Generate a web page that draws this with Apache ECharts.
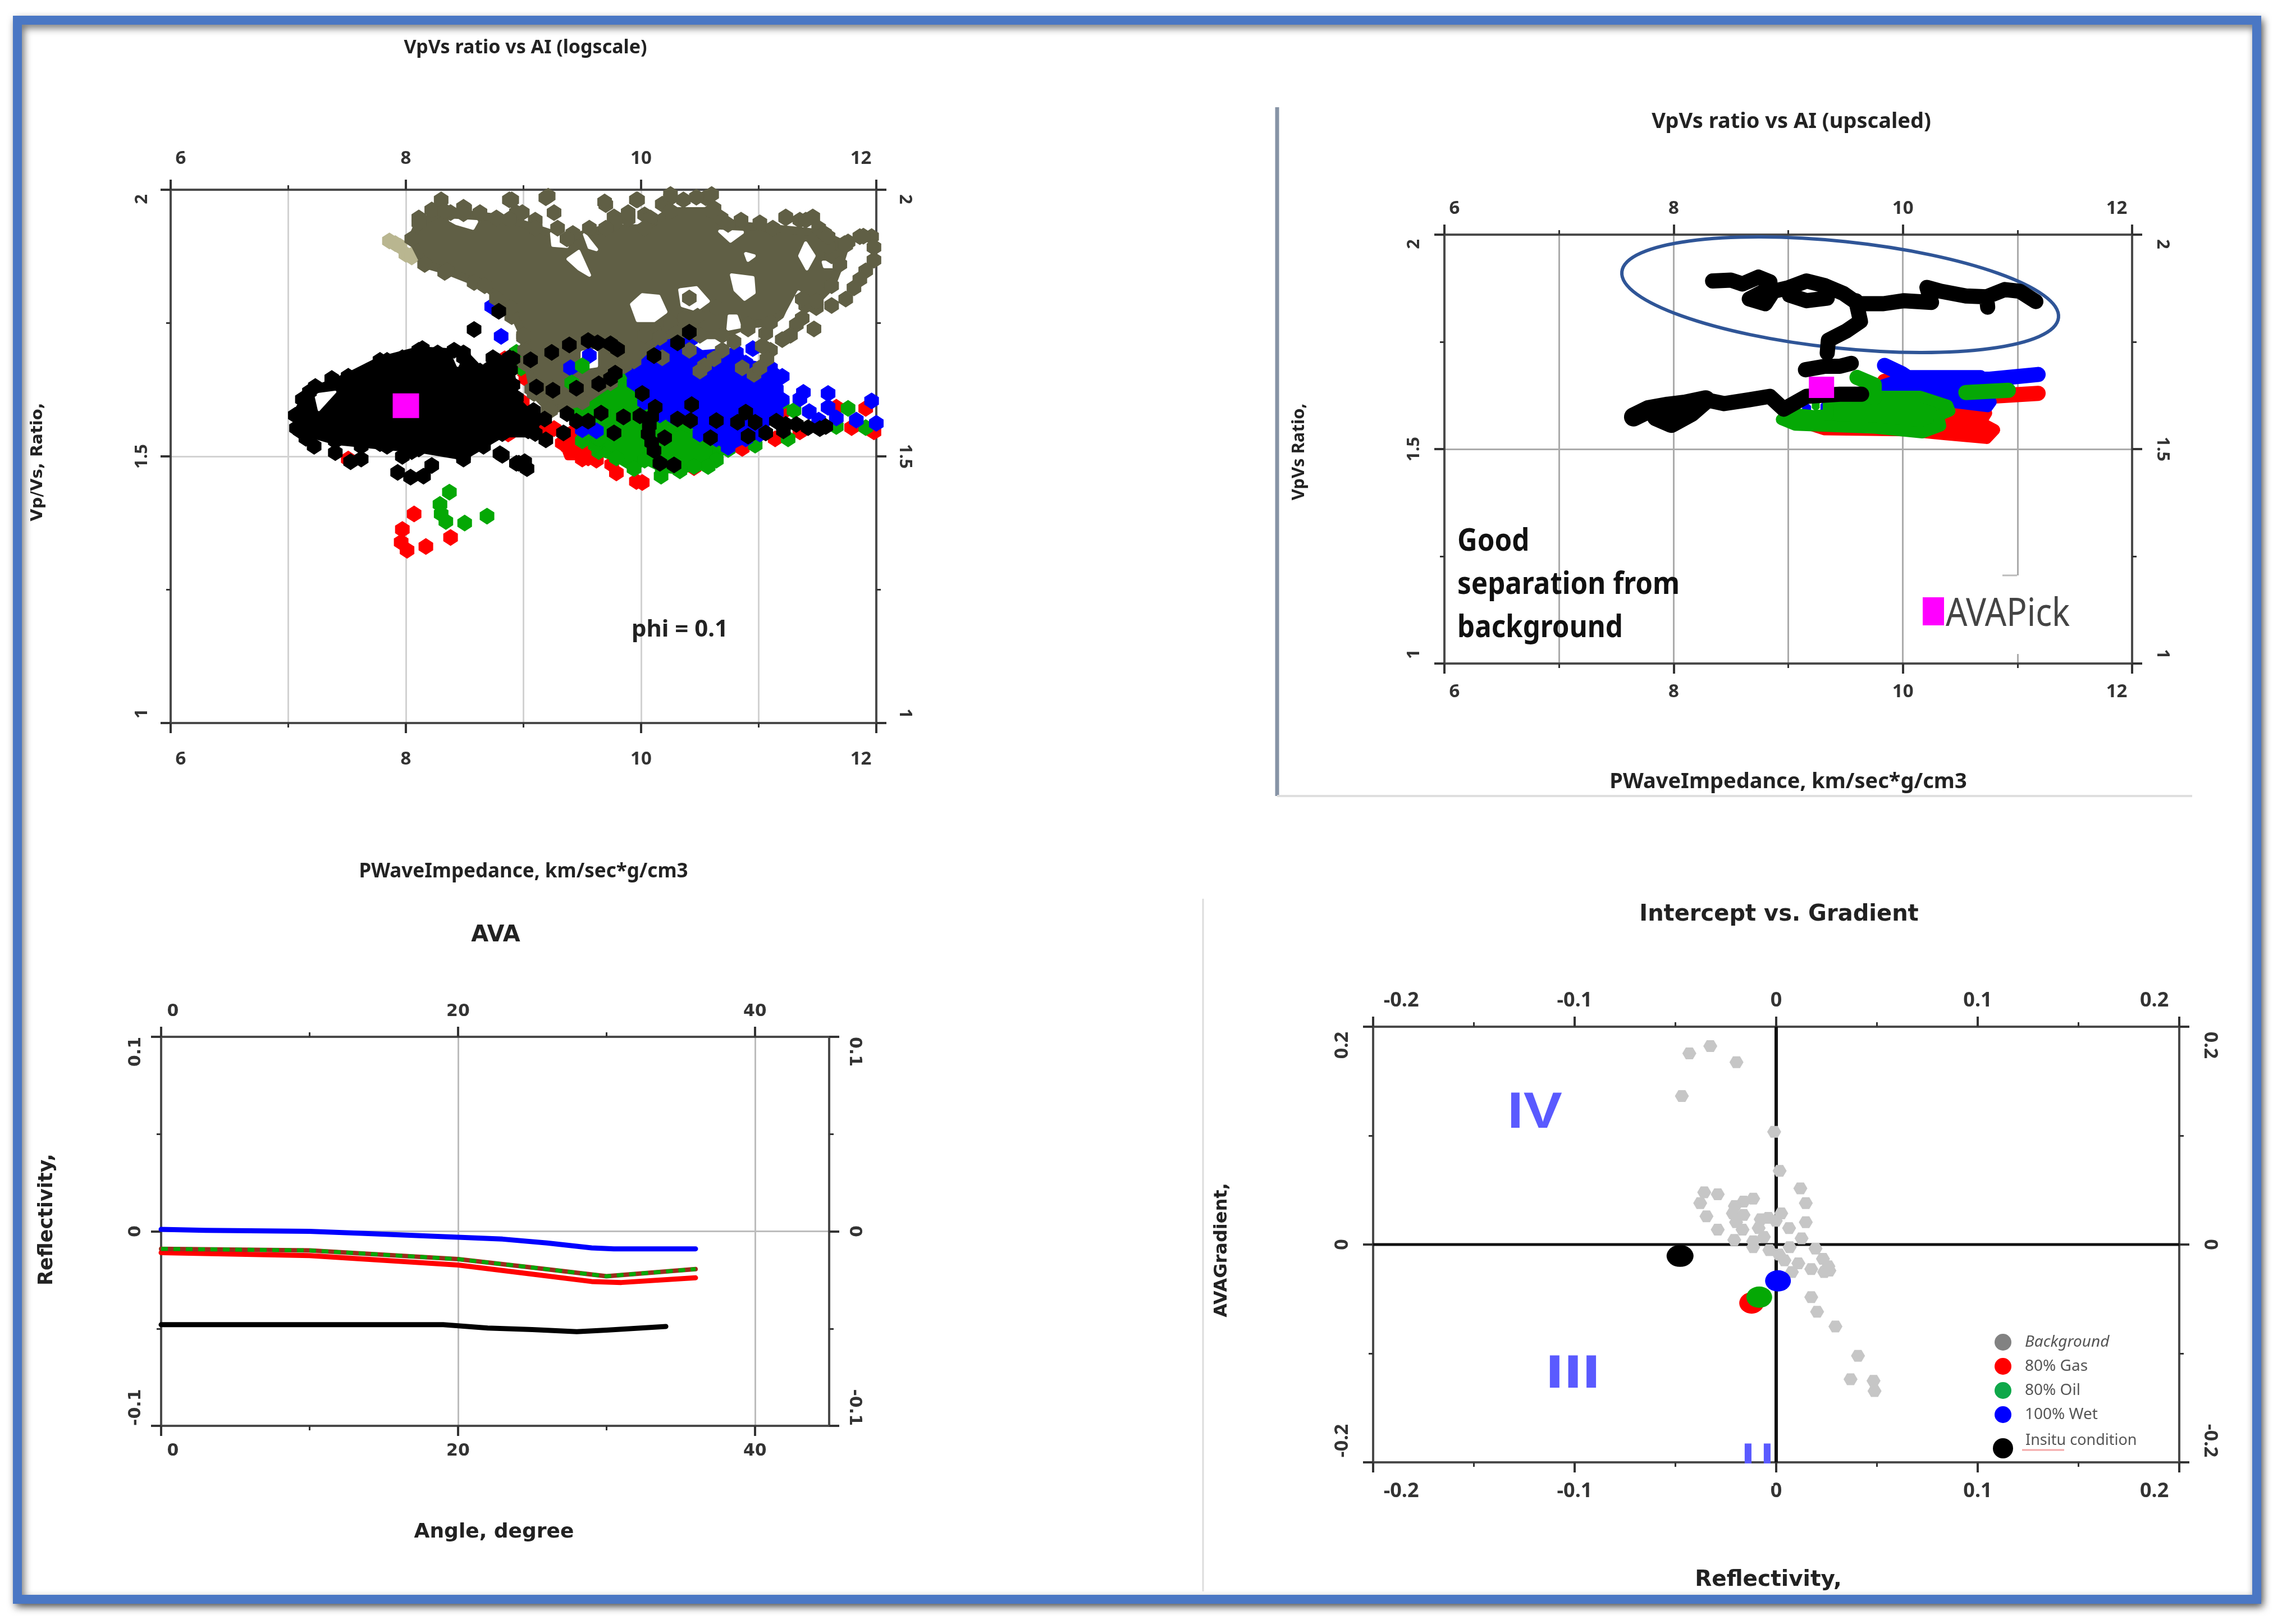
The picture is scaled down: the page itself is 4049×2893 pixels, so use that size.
<!DOCTYPE html>
<html><head><meta charset="utf-8">
<style>html,body{margin:0;padding:0;background:#fff}#c{width:4049px;height:2893px}</style>
<script src="https://cdn.jsdelivr.net/npm/echarts@6/dist/echarts.min.js"></script>
</head><body><div id="c"></div>
<script>
// ---------- Panel 1: VpVs ratio vs AI (logscale) ----------
const p1OliveCore=[[8.05,1.908],[8.11,1.938],[8.33,1.96],[8.49,1.955],[8.88,1.945],[9.10,1.928],[9.37,1.908],[9.70,1.928],[10.03,1.928],[10.25,1.96],[10.60,1.96],[10.74,1.935],[11.12,1.928],[11.56,1.918],[11.59,1.912],[11.74,1.896],[11.69,1.86],[11.62,1.82],[11.49,1.791],[11.37,1.795],[11.10,1.751],[10.91,1.747],[10.69,1.727],[10.50,1.727],[10.30,1.731],[10.16,1.723],[9.94,1.679],[9.86,1.67],[9.74,1.638],[9.50,1.602],[9.23,1.586],[9.09,1.618],[9.01,1.699],[9.0,1.727],[8.89,1.779],[8.67,1.82],[8.35,1.848],[8.16,1.86]];
const p1OliveHoles=[
 [[9.92,1.785],[10.01,1.803],[10.15,1.80],[10.21,1.771],[10.11,1.755],[9.97,1.755]],
 [[10.77,1.84],[10.95,1.835],[10.96,1.807],[10.88,1.795],[10.80,1.812]],
 [[11.34,1.808],[11.41,1.795],[11.36,1.775],[11.27,1.75],[11.20,1.727],[11.17,1.733],[11.25,1.771]],
 [[10.75,1.763],[10.81,1.763],[10.84,1.743],[10.74,1.739]],
 [[9.38,1.87],[9.47,1.884],[9.56,1.84],[9.47,1.852]],
 [[9.24,1.918],[9.41,1.925],[9.37,1.894],[9.25,1.896]],
 [[9.52,1.916],[9.62,1.888],[9.56,1.892]],
 [[8.38,1.943],[8.60,1.94],[8.57,1.928],[8.43,1.937]],
 [[10.67,1.922],[10.86,1.92],[10.76,1.904]],
 [[11.40,1.90],[11.47,1.876],[11.41,1.852],[11.35,1.876]],
 [[10.89,1.88],[10.96,1.876],[10.91,1.868]],
 [[11.55,1.864],[11.63,1.864],[11.63,1.856],[11.56,1.856]],
 [[10.33,1.812],[10.47,1.816],[10.57,1.791],[10.47,1.775],[10.35,1.783]],
 [[9.5,1.695],[9.62,1.699],[9.62,1.67],[9.5,1.666]]];
const p1OlivePoints=[[9.69,1.977],[9.19,1.985],[8.88,1.981],[8.94,1.957],[8.50,1.965],[9.26,1.957],[10.03,1.953],[9.89,1.945],[9.96,1.981],[9.77,1.949],[10.18,1.973],[10.25,1.985],[10.55,1.985],[10.62,1.965],[11.23,1.949],[11.35,1.943],[11.46,1.949],[11.54,1.92],[11.86,1.912],[11.76,1.902],[11.66,1.892],[11.62,1.876],[11.96,1.912],[11.98,1.892],[11.98,1.868],[11.91,1.848],[11.86,1.832],[11.81,1.816],[11.74,1.795],[11.62,1.783],[11.49,1.779],[11.40,1.783],[11.37,1.759],[11.47,1.739],[11.32,1.747],[11.27,1.727],[11.20,1.719],[11.10,1.699],[11.07,1.683],[11.06,1.731],[11.03,1.707],[10.91,1.739],[10.79,1.715],[10.69,1.699],[10.62,1.683],[10.54,1.67],[10.50,1.66],[10.41,1.699],[10.18,1.685],[10.86,1.666],[10.96,1.654],[11.01,1.666],[10.25,1.751],[10.37,1.759],[10.48,1.763],[10.41,1.797],[10.64,1.779],[10.11,1.735],[10.03,1.727],
 [8.11,1.947],[8.22,1.962],[8.30,1.981],[8.38,1.957],[8.49,1.967],[8.63,1.957],[8.77,1.947],[8.90,1.981],[8.99,1.957],[9.10,1.943],[9.21,1.988],[9.29,1.928],[9.42,1.918],[9.56,1.928],[9.70,1.972],[9.78,1.938],[9.89,1.957],[9.97,1.981],[10.08,1.947],[10.25,1.991],[10.36,1.981],[10.47,1.986],[10.60,1.991],[10.68,1.947],[10.85,1.943],[11.01,1.938],[11.23,1.947],[11.40,1.943],[11.51,1.928],[11.59,1.894],[11.73,1.899],[11.89,1.913],
 [8.33,1.845],[8.58,1.826],[8.77,1.796],[8.90,1.762],[9.0,1.723],[9.01,1.675],[9.07,1.626],[9.21,1.587]];
const p1TanPoints=[[7.86,1.904],[7.91,1.899],[7.95,1.894],[8.0,1.879],[8.05,1.874],[8.16,1.86],[8.08,1.882]];
const p1BlueCore=[[9.864,1.670],[10.058,1.711],[10.18,1.719],[10.30,1.711],[10.47,1.691],[10.69,1.695],[10.81,1.695],[10.89,1.675],[11.10,1.666],[11.20,1.65],[11.15,1.626],[11.20,1.606],[11.15,1.582],[11.03,1.562],[11.01,1.542],[10.89,1.533],[10.74,1.517],[10.64,1.533],[10.50,1.542],[10.45,1.566],[10.28,1.574],[10.16,1.578],[10.03,1.602],[9.94,1.638]];
const p1BluePoints=[[8.73,1.781],[8.81,1.725],[10.28,1.777],[10.58,1.743],[10.95,1.702],[11.38,1.62],[11.35,1.608],[11.59,1.618],[11.59,1.592],[11.66,1.572],[11.43,1.584],[11.51,1.568],[11.83,1.568],[11.96,1.604],[12,1.562],[9.62,1.548],[9.5,1.55],[9.84,1.715],[10.42,1.719],[10.3,1.723],[9.74,1.719],[10.79,1.529],[10.89,1.542]];
const p1BlueTop=[[9.56,1.689],[9.40,1.666]];
const p1GreenCore=[[9.86,1.654],[9.96,1.634],[10.03,1.598],[10.16,1.574],[10.30,1.562],[10.50,1.542],[10.67,1.513],[10.64,1.493],[10.57,1.481],[10.45,1.481],[10.33,1.473],[10.18,1.477],[10.03,1.493],[9.94,1.477],[9.79,1.497],[9.64,1.509],[9.61,1.521],[9.64,1.533],[9.50,1.529],[9.43,1.586],[9.50,1.606],[9.64,1.626],[9.79,1.642]];
const p1GreenPoints=[[10.17,1.463],[10.06,1.753],[8.98,1.666],[8.94,1.695],[9.06,1.566],[11.30,1.586],[11.76,1.59],[11.91,1.554],[11.66,1.556],[11.25,1.533],[10.97,1.521],[10.72,1.556],[10.73,1.685],[10.74,1.513],[11.2,1.602],[9.54,1.537],[8.37,1.433],[8.29,1.41],[8.30,1.392],[8.34,1.378],[8.5,1.375],[8.69,1.388]];
const p1GreenTop=[[9.5,1.67],[9.41,1.638]];
const p1RedPatch=[[9.33,1.53],[9.5,1.55],[9.6,1.52],[9.55,1.5],[9.38,1.5]];
const p1RedPoints=[[9.38,1.517],[9.47,1.533],[9.55,1.497],[9.50,1.495],[9.62,1.493],[9.75,1.485],[9.79,1.469],[9.80,1.5],[10.01,1.451],[9.96,1.453],[10.45,1.479],[10.86,1.515],[11.14,1.533],[11.35,1.546],[11.79,1.554],[11.91,1.59],[11.98,1.546],[11.66,1.592],[11.21,1.584],[9.99,1.751],[9.02,1.646],[9.01,1.658],[8.81,1.648],[8.99,1.602],[9.16,1.55],[9.26,1.552],[8.87,1.542],[8.46,1.527],[10.23,1.497],[10.64,1.675],[8.84,1.683],[9.42,1.545],[9.33,1.525],[7.51,1.495],[8.07,1.392],[7.97,1.363],[7.96,1.339],[8.01,1.324],[8.17,1.331],[8.38,1.348]];
const p1BlackCore=[[7.06,1.577],[7.18,1.621],[7.51,1.65],[7.78,1.68],[8.11,1.699],[8.49,1.694],[8.66,1.655],[8.88,1.675],[8.93,1.607],[9.10,1.568],[9.10,1.543],[8.82,1.543],[8.49,1.5],[8.11,1.514],[7.84,1.519],[7.40,1.529],[7.10,1.548]];
const p1BlackHoles=[[[7.23,1.616],[7.40,1.621],[7.26,1.587]],[[8.40,1.690],[8.48,1.688],[8.44,1.670]]];
const p1BlackPoints=[[7.22,1.519],[7.40,1.507],[7.53,1.49],[7.62,1.495],[7.84,1.675],[7.97,1.5],[7.93,1.47],[8.04,1.461],[8.15,1.463],[8.22,1.483],[8.82,1.502],[8.96,1.487],[9.03,1.477],[9.01,1.49],[8.58,1.738],[8.79,1.772],[9.55,1.717],[9.63,1.713],[9.74,1.711],[9.80,1.701],[9.39,1.709],[9.24,1.695],[9.06,1.681],[8.91,1.683],[8.78,1.679],[10.41,1.733],[10.31,1.713],[10.11,1.689],[9.78,1.656],[9.74,1.646],[9.64,1.636],[9.45,1.628],[9.25,1.624],[9.11,1.63],[10.01,1.618],[10.43,1.597],[10.89,1.583],[10.82,1.564],[10.97,1.564],[10.64,1.567],[10.42,1.567],[10.31,1.57],[10.59,1.535],[10.91,1.538],[11.06,1.544],[11.15,1.566],[11.23,1.56],[11.32,1.56],[11.42,1.554],[11.52,1.552],[11.21,1.548],[11.57,1.556],[10.12,1.592],[10.09,1.574],[10.07,1.558],[10.06,1.542],[10.09,1.526],[10.11,1.511],[10.16,1.487],[10.28,1.484],[10.20,1.535],[9.99,1.576],[9.85,1.574],[9.66,1.581],[9.55,1.566],[9.45,1.566],[9.37,1.58],[9.34,1.544],[9.19,1.531],[9.77,1.544],[8.80,1.505],[8.94,1.487],[9.085,1.586],[9.18,1.57],[8.96,1.554],[8.94,1.61],[8.91,1.634],[8.79,1.654],[8.89,1.662],[8.72,1.666],
 [7.12,1.607],[7.23,1.631],[7.37,1.646],[7.51,1.65],[7.67,1.66],[7.84,1.68],[7.97,1.685],[8.14,1.702],[8.27,1.694],[8.41,1.699],[8.49,1.685],[8.63,1.66],[8.74,1.685],[8.88,1.685],[7.07,1.553],[7.15,1.534],[7.62,1.519],[7.78,1.524],[8.05,1.509],[8.33,1.519],[8.49,1.495],[8.66,1.519],[8.82,1.543],[9.04,1.548]];
const p1Pick=[[8.0,1.595]];

// ---------- Panel 2: VpVs ratio vs AI (upscaled) ----------
const p2BlackUpper=[[8.34,1.892],[8.50,1.894],[8.60,1.885],[8.74,1.901],[8.84,1.89],[8.79,1.868],[8.66,1.85],[8.80,1.839],[8.87,1.868],[9.00,1.876],[9.16,1.892],[9.32,1.881],[9.34,1.852],[9.16,1.846],[9.01,1.859],[9.00,1.876],[9.16,1.892],[9.32,1.881],[9.48,1.863],[9.61,1.839],[9.83,1.839],[10.01,1.846],[10.25,1.842],[10.21,1.877],[10.33,1.868],[10.55,1.857],[10.73,1.855],[10.74,1.831],[10.73,1.855],[10.89,1.872],[11.02,1.868],[11.16,1.844]];
const p2BlackStem=[[9.59,1.846],[9.63,1.798],[9.51,1.776],[9.35,1.754],[9.34,1.724]];
const p2BlackMid=[[9.15,1.685],[9.32,1.693],[9.45,1.693],[9.55,1.70]];
const p2BlackLower=[[8.28,1.615],[8.44,1.606],[8.66,1.615],[8.84,1.623],[8.96,1.593],[9.16,1.623],[9.45,1.628],[9.64,1.628]];
const p2BlackBlob=[[7.65,1.575],[7.78,1.592],[7.95,1.6],[8.1,1.605],[8.28,1.615],[8.15,1.585],[7.98,1.56],[7.85,1.575],[7.95,1.58]];
const p2BlueCore=[[10.07,1.671],[10.68,1.671],[10.70,1.65],[10.49,1.619],[10.77,1.61],[10.74,1.599],[10.41,1.61],[10.07,1.623],[9.80,1.628],[9.83,1.65]];
const p2BlueTrack=[[9.84,1.695],[9.99,1.676],[10.09,1.658],[10.49,1.663],[10.76,1.663],[11.18,1.674]];
const p2BlueBits=[[9.16,1.593],[9.32,1.597]];
const p2RedCore=[[10.36,1.615],[10.70,1.61],[10.73,1.584],[10.68,1.562],[10.80,1.545],[10.73,1.525],[10.36,1.534],[10.01,1.543],[9.32,1.545],[9.215,1.554],[10.28,1.58]];
const p2RedTrackA=[[9.84,1.658],[10.01,1.632]];
const p2RedTrackB=[[10.76,1.623],[11.18,1.63]];
const p2GreenCore=[[9.35,1.615],[9.75,1.623],[10.15,1.623],[10.39,1.602],[10.41,1.589],[10.31,1.578],[10.33,1.554],[10.17,1.538],[9.75,1.549],[9.06,1.556],[8.94,1.569],[9.0,1.584],[9.215,1.578],[9.35,1.58]];
const p2GreenTrackA=[[9.60,1.667],[9.75,1.65],[9.75,1.62]];
const p2GreenTrackB=[[10.55,1.632],[10.92,1.637]];
const p2GreenBits=[[9.24,1.602]];
const p2Pick=[[9.29,1.644]];

// ---------- Panel 3: AVA ----------
const p3Wet=[[0,0.001],[3,0.0005],[10,0],[13.5,-0.001],[20,-0.003],[23,-0.004],[26,-0.006],[29,-0.0085],[30.5,-0.009],[36,-0.009]];
const p3Oil=[[0,-0.009],[10,-0.0098],[20,-0.0143],[25,-0.0186],[30,-0.0231],[36,-0.0194]];
const p3Gas=[[0,-0.011],[10,-0.0125],[20,-0.0173],[25,-0.022],[29,-0.0258],[31,-0.0263],[36,-0.0239]];
const p3Insitu=[[0,-0.048],[19,-0.048],[22,-0.0497],[25,-0.0505],[28,-0.0516],[30,-0.0508],[34,-0.0489]];

// ---------- Panel 4: Intercept vs. Gradient ----------
const p4Background=[[-0.0431,0.1755],[-0.0327,0.1822],[-0.0197,0.1674],[-0.0468,0.1364],[-0.001,0.1035],[0.0017,0.0677],[0.012,0.0515],[0.0147,0.038],[-0.0357,0.048],[-0.029,0.0461],[-0.0377,0.038],[-0.0346,0.0259],[-0.029,0.0137],[-0.0208,0.0043],[-0.0114,0.0421],[-0.0162,0.0394],[-0.0205,0.0353],[-0.0215,0.0286],[-0.0162,0.0272],[-0.0199,0.0205],[-0.0167,0.0137],[-0.0077,0.0232],[-0.0039,0.0245],[0.0025,0.0286],[-0.0002,0.0218],[-0.0087,0.0151],[-0.0061,0.007],[0.0064,0.0151],[0.0147,0.0205],[0.0126,0.0057],[-0.0114,0.003],[-0.0114,-0.0024],[-0.0034,-0.0051],[0.0014,-0.0092],[0.0041,-0.0146],[0.0067,-0.0024],[0.0195,-0.0038],[0.0232,-0.0132],[0.0259,-0.02],[0.0238,-0.0253],[0.0174,-0.0226],[0.011,-0.0173],[0.0078,-0.0253],[0.0264,-0.024],[0.0174,-0.0483],[0.0203,-0.0617],[0.0294,-0.0752],[0.0406,-0.1022],[0.0369,-0.1237],[0.0483,-0.1251],[0.0488,-0.1345]];
const p4Gas=[[-0.0122,-0.0537]];
const p4Oil=[[-0.0084,-0.0483]];
const p4Wet=[[0.0009,-0.0334]];
const p4Insitu=[[-0.0477,-0.0105]];
const legendNames=['Background','80% Gas','80% Oil','100% Wet'];

// ---------- Style ----------
const RED='#ff0000',GREEN='#05a805',BLUE='#0000ff',BLACK='#000000',OLIVE='#605f45',TAN='#b9b690',MAG='#ff00ff',GRAY='#c6c6c6';
const NOTO='"Noto Sans",sans-serif',DJ='"DejaVu Sans",sans-serif',LIB='"Liberation Sans",sans-serif';
const HEX='path://M50 0 L100 28 L100 72 L50 100 L0 72 L0 28Z',FLAT='path://M25 0 L75 0 L100 50 L75 100 L25 100 L0 50Z';
const grids=[{left:304,top:338,width:1257,height:950},{left:2573,top:418,width:1225,height:764},{left:287,top:1847,width:1190,height:693},{left:2446,top:1829,width:1436,height:776}];
const panels=[
 {x:[6,12,2],y:[1,2,0.5],font:NOTO,size:33,lblX:[48,39],lblY:35,grid:'#d2d2d2',padX:1,padY:1},
 {x:[6,12,2],y:[1,2,0.5],font:NOTO,size:33,lblX:[34,30],lblY:38,grid:'#ababab',padX:1,padY:1},
 {x:[0,45,20],y:[-0.1,0.1,0.1],font:DJ,size:30,lblX:[30,30],lblY:30,grid:'#bdbdbd',custom:[0,20,40],padX:1,padY:0},
 {x:[-0.2,0.2,0.1],y:[-0.2,0.2,0.2],font:NOTO,size:36,lblX:[34,28],lblY:38,grid:null,padX:2,padY:1}];
const names=[
 {x:'PWaveImpedance, km/sec*g/cm3',xf:NOTO,xs:35,xGap:248,xPad:[0,0,0,0],y:'Vp/Vs, Ratio,',yf:DJ,ys:29,yGap:222,yPad:[0,20,0,0]},
 {x:'PWaveImpedance, km/sec*g/cm3',xf:NOTO,xs:38,xGap:192,xPad:[0,0,0,0],y:'VpVs Ratio,',yf:NOTO,ys:31,yGap:243,yPad:[0,10,0,0]},
 {x:'Angle, degree',xf:DJ,xs:36,xGap:172,xPad:[0,4,0,0],y:'Reflectivity,',yf:DJ,ys:35,yGap:186,yPad:[0,0,0,42]},
 {x:'Reflectivity,',xf:DJ,xs:39,xGap:190,xPad:[0,28,0,0],y:'AVAGradient,',yf:DJ,ys:32,yGap:253,yPad:[0,20,0,0]}];
const axisLine={show:true,onZero:false,lineStyle:{color:'#4a4a4a',width:4}};
function padded(v,min,max,n,minLeading,maxLeading){
 const s=' '.repeat(n),t=String(v);
 if(v===min) return minLeading?s+t:t+s;
 if(v===max) return maxLeading?s+t:t+s;
 return t;}
function xAxisOf(g,pos){const p=panels[g],n=names[g],bottom=pos==='bottom';
 const a={type:'value',gridIndex:g,position:pos,min:p.x[0],max:p.x[1],interval:p.x[2],axisLine,
  axisTick:{show:true,length:18,lineStyle:{color:'#333',width:4}},
  minorTick:{show:true,splitNumber:2,length:8,lineStyle:{color:'#333',width:3}},
  axisLabel:{margin:bottom?p.lblX[0]:p.lblX[1],fontFamily:p.font,fontSize:p.size,fontWeight:'bold',color:'#333',alignMinLabel:'left',alignMaxLabel:'right',showMinLabel:true,showMaxLabel:true,hideOverlap:false,
   formatter:v=>padded(v,p.x[0],p.x[1],p.padX,true,false)},
  splitLine:{show:!!p.grid&&bottom,lineStyle:{color:p.grid||'#ccc',width:3}},
  minorSplitLine:{show:!!p.grid&&bottom&&g<2,lineStyle:{color:p.grid||'#ccc',width:3}}};
 if(p.custom){a.axisTick.customValues=p.custom;a.axisLabel.customValues=p.custom;a.axisLabel.alignMaxLabel=null;a.axisLabel.alignMinLabel='left';}
 if(bottom){a.name=n.x;a.nameLocation='middle';a.nameGap=n.xGap;a.nameTextStyle={fontFamily:n.xf,fontSize:n.xs,fontWeight:'bold',color:'#222',padding:n.xPad,verticalAlign:'top'};}
 return a;}
function yAxisOf(g,pos){const p=panels[g],n=names[g],left=pos==='left';
 const a={type:'value',gridIndex:g,position:pos,min:p.y[0],max:p.y[1],interval:p.y[2],axisLine,
  axisTick:{show:true,length:18,lineStyle:{color:'#333',width:4}},
  minorTick:{show:true,splitNumber:2,length:8,lineStyle:{color:'#333',width:3}},
  axisLabel:{rotate:left?90:-90,margin:p.lblY,fontFamily:p.font,fontSize:p.size-(g===2?0:2),fontWeight:'bold',color:'#333',alignMaxLabel:left?'right':'left',alignMinLabel:left?'left':'right',showMinLabel:true,showMaxLabel:true,hideOverlap:false,
   formatter:v=>padded(v,p.y[0],p.y[1],p.padY,left,!left)},
  splitLine:{show:!!p.grid&&left,lineStyle:{color:p.grid||'#ccc',width:3}},minorSplitLine:{show:false}};
 if(left){a.name=n.y;a.nameLocation='middle';a.nameGap=n.yGap;a.nameRotate=90;a.nameTextStyle={fontFamily:n.yf,fontSize:n.ys,fontWeight:'bold',color:'#222',padding:n.yPad};}
 return a;}
const xAxes=[],yAxes=[];
for(let g=0;g<4;g++){xAxes.push(xAxisOf(g,'bottom'),xAxisOf(g,'top'));yAxes.push(yAxisOf(g,'left'),yAxisOf(g,'right'));}

let zc=3;
function area(g,name,color,pts,round){return {type:'custom',name,coordinateSystem:'cartesian2d',xAxisIndex:g*2,yAxisIndex:g*2,z:zc++,silent:true,clip:true,encode:{x:0,y:1},data:pts,
  renderItem:(p,api)=>p.dataIndex===0?{type:'polygon',shape:{points:pts.map(q=>api.coord(q))},style:{fill:color,stroke:color,lineWidth:round||14,lineJoin:'round'}}:null};}
function dots(g,name,color,pts,size,symbol){return {type:'scatter',name,xAxisIndex:g*2,yAxisIndex:g*2,z:zc++,silent:true,clip:true,symbol:symbol||HEX,symbolSize:size,data:pts,itemStyle:{color,opacity:1}};}
function track(g,name,color,pts,width,dash){return {type:'line',name,xAxisIndex:g*2,yAxisIndex:g*2,z:zc++,silent:true,showSymbol:false,symbol:'none',clip:true,data:pts,lineStyle:{color,width,cap:dash?'butt':'round',join:'round',type:dash||'solid',opacity:1},itemStyle:{color}};}
const M=[26,30],W=27;
const series=[
 area(0,'80% Gas',RED,p1RedPatch),
 dots(0,'80% Gas',RED,p1RedPoints,M),
 area(0,'80% Oil',GREEN,p1GreenCore),dots(0,'80% Oil',GREEN,p1GreenPoints.concat(p1GreenCore),M),
 area(0,'100% Wet',BLUE,p1BlueCore),dots(0,'100% Wet',BLUE,p1BluePoints.concat(p1BlueCore),M),
 dots(0,'Background',TAN,p1TanPoints,M),
 area(0,'Background',OLIVE,p1OliveCore),
 ...p1OliveHoles.map(h=>area(0,'hole','#ffffff',h,6)),
 dots(0,'Background',OLIVE,p1OlivePoints.concat(p1OliveCore),M),
 dots(0,'100% Wet',BLUE,p1BlueTop,M),dots(0,'80% Oil',GREEN,p1GreenTop,M),
 area(0,'Insitu condition',BLACK,p1BlackCore),
 ...p1BlackHoles.map(h=>area(0,'hole','#ffffff',h,4)),
 dots(0,'Insitu condition',BLACK,p1BlackPoints.concat(p1BlackCore),M),
 dots(0,'AVAPick',MAG,p1Pick,[47,44],'rect'),
 area(1,'80% Gas',RED,p2RedCore,20),track(1,'80% Gas',RED,p2RedTrackA,W),track(1,'80% Gas',RED,p2RedTrackB,W),
 area(1,'100% Wet',BLUE,p2BlueCore,20),track(1,'100% Wet',BLUE,p2BlueTrack,W),dots(1,'100% Wet',BLUE,p2BlueBits,[16,26]),
 area(1,'80% Oil',GREEN,p2GreenCore,20),track(1,'80% Oil',GREEN,p2GreenTrackA,W),track(1,'80% Oil',GREEN,p2GreenTrackB,W),dots(1,'80% Oil',GREEN,p2GreenBits,[14,22]),
 track(1,'Insitu condition',BLACK,p2BlackUpper,W),track(1,'Insitu condition',BLACK,p2BlackStem,W),track(1,'Insitu condition',BLACK,p2BlackMid,W),track(1,'Insitu condition',BLACK,p2BlackLower,W),track(1,'Insitu condition',BLACK,p2BlackBlob,34),
 dots(1,'AVAPick',MAG,p2Pick,[45,38],'rect'),
 track(2,'100% Wet',BLUE,p3Wet,9),
 track(2,'80% Gas',RED,p3Gas,9),
 track(2,'80% Oil','#9a2c1c',p3Oil,8),track(2,'80% Oil',GREEN,p3Oil,7,[12,10]),
 track(2,'Insitu condition',BLACK,p3Insitu,9),
 {type:'line',name:'axes',xAxisIndex:6,yAxisIndex:6,z:3,silent:true,showSymbol:false,symbol:'none',data:[[-0.2,0],[0.2,0]],lineStyle:{color:'#111',width:5}},
 {type:'line',name:'axes',xAxisIndex:6,yAxisIndex:6,z:3,silent:true,showSymbol:false,symbol:'none',data:[[0,-0.2],[0,0.2]],lineStyle:{color:'#111',width:6}},
 dots(3,'Background',GRAY,p4Background,[25,21],FLAT),
 dots(3,'80% Gas',RED,p4Gas,[44,38],'circle'),
 dots(3,'80% Oil',GREEN,p4Oil,[46,38],'circle'),
 dots(3,'100% Wet',BLUE,p4Wet,[46,38],'circle'),
 dots(3,'Insitu condition',BLACK,p4Insitu,[48,39],'circle')
];
function txt(x,y,text,font,size,fill,fw,sx){return {type:'text',x,y,z:1,silent:true,scaleX:sx||1,style:{text,font:(fw||'bold')+' '+size+'px '+font,fill,textAlign:'center',textVerticalAlign:'middle'}};}
const graphicEls=[
 {type:'rect',z:-10,silent:true,shape:{x:31,y:36,width:3989,height:2813},style:{fill:'#fff',stroke:'#4a77c4',lineWidth:16,shadowBlur:14,shadowColor:'rgba(0,0,0,0.55)',shadowOffsetX:4,shadowOffsetY:6}},
 {type:'line',z:-1,silent:true,shape:{x1:2275,y1:191,x2:2275,y2:1418},style:{stroke:'#8794a6',lineWidth:7}},
 {type:'line',z:-1,silent:true,shape:{x1:2275,y1:1418,x2:3905,y2:1418},style:{stroke:'#dedede',lineWidth:4}},
 {type:'line',z:-1,silent:true,shape:{x1:2143,y1:1601,x2:2143,y2:2835},style:{stroke:'#dddddd',lineWidth:3}},
 {type:'rect',z:1,silent:true,shape:{x:3570,y:1025,width:40,height:140},style:{fill:'#fff'}},
 {type:'line',z:1,silent:true,shape:{x1:3567,y1:1025,x2:3593,y2:1025},style:{stroke:'#bbb',lineWidth:3}},
 {type:'ellipse',z:20,silent:true,x:3278,y:525,rotation:-6*Math.PI/180,shape:{cx:0,cy:0,rx:391,ry:95},style:{fill:'none',stroke:'#2f5597',lineWidth:6}},
 {type:'rect',z:20,silent:true,shape:{x:3425,y:1064,width:38,height:50},style:{fill:MAG}},
 {type:'text',z:20,silent:true,x:3466,y:1095,scaleX:0.86,style:{text:'AVAPick',font:'70px '+NOTO,fill:'#444',textAlign:'left',textVerticalAlign:'middle'}},
 {type:'text',z:20,silent:true,x:2596,y:1042,scaleX:0.88,style:{text:'Good\nseparation from\nbackground',font:'bold 56px '+NOTO,lineHeight:77,fill:'#111',textAlign:'left',textVerticalAlign:'middle'}},
 txt(1211,1122,'phi = 0.1',NOTO,42,'#222'),
 txt(2734,1984,'IV',LIB,90,'#5a5aff','bold',1.15),
 txt(2802,2449,'III',LIB,84,'#5a5aff','bold',1.4),
 txt(3114,2606,'I',LIB,84,'#5a5aff','bold'),
 txt(3148,2606,'I',LIB,84,'#5a5aff','bold'),
 {type:'rect',z:1,silent:true,shape:{x:3095,y:2607,width:64,height:40},style:{fill:'#fff'}},
 {type:'line',z:20,silent:true,shape:{x1:3602,y1:2583,x2:3677,y2:2583},style:{stroke:'#f4a9a9',lineWidth:3}}
];
const legendText={fontFamily:NOTO,fontSize:28,color:'#555',padding:[0,0,0,19]};
const legendColors=['#828282',RED,'#0fa84a',BLUE];
const option={
 animation:false,backgroundColor:'#fff',
 title:[
  {text:'VpVs ratio vs AI (logscale)',left:931,top:80,textAlign:'center',textVerticalAlign:'middle',textStyle:{fontFamily:NOTO,fontSize:34,fontWeight:'bold',color:'#222'}},
  {text:'VpVs ratio vs AI (upscaled)',left:3186,top:212,textAlign:'center',textVerticalAlign:'middle',textStyle:{fontFamily:NOTO,fontSize:38,fontWeight:'bold',color:'#222'}},
  {text:'AVA',left:878,top:1662,textAlign:'center',textVerticalAlign:'middle',textStyle:{fontFamily:DJ,fontSize:40,fontWeight:'bold',color:'#222'}},
  {text:'Intercept vs. Gradient',left:3164,top:1625,textAlign:'center',textVerticalAlign:'middle',textStyle:{fontFamily:DJ,fontSize:40,fontWeight:'bold',color:'#222'}}],
 grid:grids.map(g=>Object.assign({containLabel:false,show:false},g)),
 xAxis:xAxes,yAxis:yAxes,series,
 legend:[
  {orient:'vertical',left:3548,top:2371,itemWidth:30,itemHeight:30,itemGap:13,selectedMode:false,icon:'circle',textStyle:legendText,
   data:legendNames.map((name,i)=>({name,itemStyle:{color:legendColors[i]},textStyle:i===0?{fontStyle:'italic'}:{}}))},
  {orient:'vertical',left:3545,top:2548,itemWidth:44,itemHeight:36,selectedMode:false,icon:'circle',formatter:n=>n+'\n',textStyle:{fontFamily:NOTO,fontSize:27,color:'#555',padding:[0,0,0,13]},
   data:[{name:'Insitu condition',itemStyle:{color:BLACK}}]}],
 graphic:{elements:graphicEls}
};
const chart=echarts.init(document.getElementById('c'),null,{renderer:'canvas',width:4049,height:2893});
chart.setOption(option);
</script></body></html>
